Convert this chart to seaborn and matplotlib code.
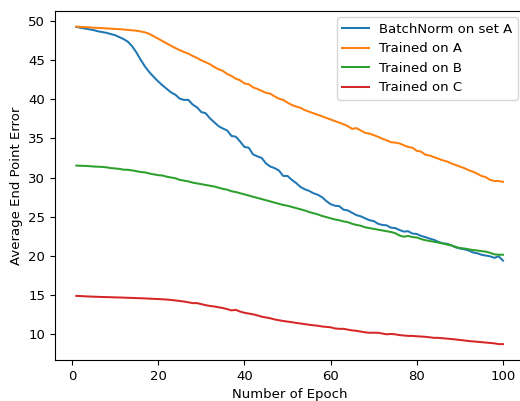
import matplotlib
matplotlib.use("Agg")
import matplotlib.pyplot as plt
import seaborn as sns
import numpy as np
import pandas as pd

epochs = list(range(1, 101))

batchnorm_a = [
    49.20, 49.10, 49.00, 48.90, 48.80, 48.65, 48.55, 48.45, 48.30, 48.15,
    47.90, 47.65, 47.30, 46.70, 45.90, 44.95, 44.10, 43.40, 42.80, 42.25,
    41.75, 41.30, 40.85, 40.55, 40.05, 39.90, 39.90, 39.30, 38.95, 38.35,
    38.20, 37.55, 37.05, 36.55, 36.25, 36.00, 35.30, 35.20, 34.60, 33.90,
    33.80, 32.95, 32.70, 32.50, 31.80, 31.40, 31.20, 30.90, 30.20, 30.20,
    29.70, 29.30, 28.80, 28.50, 28.30, 28.00, 27.80, 27.50, 27.00, 26.60,
    26.40, 26.35, 25.90, 25.80, 25.50, 25.20, 25.05, 24.80, 24.55, 24.45,
    24.10, 23.95, 23.90, 23.60, 23.55, 23.30, 23.10, 23.15, 22.85, 22.80,
    22.55, 22.40, 22.20, 22.05, 21.80, 21.60, 21.55, 21.35, 21.10, 20.95,
    20.85, 20.70, 20.45, 20.35, 20.15, 20.05, 19.95, 19.75, 19.95, 19.40,
]

trained_a = [
    49.25, 49.20, 49.18, 49.15, 49.10, 49.08, 49.05, 49.02, 48.98, 48.95,
    48.92, 48.88, 48.82, 48.77, 48.72, 48.62, 48.50, 48.30, 48.00, 47.70,
    47.40, 47.10, 46.80, 46.50, 46.25, 46.00, 45.80, 45.50, 45.25, 44.95,
    44.70, 44.45, 44.10, 43.80, 43.60, 43.20, 42.95, 42.60, 42.40, 42.00,
    41.90, 41.50, 41.30, 41.05, 40.80, 40.70, 40.35, 40.05, 39.90, 39.55,
    39.25, 39.05, 38.90, 38.60, 38.40, 38.20, 38.00, 37.80, 37.60, 37.40,
    37.20, 37.00, 36.80, 36.55, 36.20, 36.30, 36.00, 35.70, 35.60, 35.40,
    35.20, 34.95, 34.75, 34.50, 34.45, 34.35, 34.10, 33.90, 33.80, 33.40,
    33.30, 32.90, 32.80, 32.60, 32.40, 32.20, 32.05, 31.80, 31.60, 31.40,
    31.20, 30.95, 30.75, 30.50, 30.20, 30.05, 29.70, 29.55, 29.55, 29.45,
]

trained_b = [
    31.52, 31.50, 31.48, 31.45, 31.40, 31.38, 31.35, 31.30, 31.20, 31.15,
    31.10, 31.00, 30.98, 30.90, 30.80, 30.70, 30.65, 30.50, 30.40, 30.30,
    30.25, 30.10, 30.00, 29.90, 29.70, 29.60, 29.50, 29.35, 29.25, 29.15,
    29.05, 28.95, 28.85, 28.70, 28.55, 28.45, 28.25, 28.15, 28.00, 27.85,
    27.70, 27.55, 27.40, 27.25, 27.10, 26.95, 26.80, 26.65, 26.50, 26.40,
    26.25, 26.10, 25.95, 25.80, 25.60, 25.45, 25.30, 25.10, 24.95, 24.80,
    24.65, 24.55, 24.40, 24.30, 24.10, 23.95, 23.85, 23.65, 23.55, 23.45,
    23.35, 23.25, 23.15, 23.05, 22.90, 22.60, 22.45, 22.55, 22.40, 22.35,
    22.15, 22.00, 21.90, 21.80, 21.70, 21.60, 21.45, 21.35, 21.15, 21.00,
    20.95, 20.85, 20.75, 20.70, 20.60, 20.55, 20.40, 20.20, 20.15, 20.15,
]

trained_c = [
    14.90, 14.88, 14.85, 14.82, 14.80, 14.78, 14.76, 14.75, 14.73, 14.71,
    14.70, 14.68, 14.66, 14.64, 14.62, 14.60, 14.58, 14.55, 14.52, 14.50,
    14.47, 14.43, 14.38, 14.32, 14.25, 14.18, 14.08, 13.98, 13.98, 13.85,
    13.72, 13.62, 13.55, 13.45, 13.35, 13.22, 13.05, 13.12, 12.90, 12.75,
    12.65, 12.55, 12.42, 12.25, 12.15, 12.05, 11.90, 11.80, 11.70, 11.62,
    11.55, 11.45, 11.38, 11.30, 11.22, 11.15, 11.10, 11.00, 10.95, 10.90,
    10.75, 10.70, 10.70, 10.60, 10.50, 10.45, 10.35, 10.25, 10.20, 10.20,
    10.20, 10.10, 10.00, 10.05, 10.00, 9.90, 9.85, 9.80, 9.80, 9.75,
    9.72, 9.68, 9.62, 9.55, 9.55, 9.50, 9.45, 9.40, 9.35, 9.28,
    9.22, 9.15, 9.10, 9.05, 9.00, 8.95, 8.90, 8.85, 8.75, 8.75,
]

series_names = ["BatchNorm on set A", "Trained on A", "Trained on B", "Trained on C"]
series_values = [batchnorm_a, trained_a, trained_b, trained_c]
colors = ["#1f77b4", "#ff7f0e", "#2ca02c", "#d62728"]

plt.style.use("default")
plt.rcParams["font.family"] = ["DejaVu Sans"]
plt.rcParams["font.size"] = 9.5

fig = plt.figure(figsize=(5.2, 4.01), dpi=100)
ax = fig.add_axes([55 / 520, 41 / 401, 469.3 / 520, 349.3 / 401])

for name, vals, c in zip(series_names, series_values, colors):
    df = pd.DataFrame({"epoch": epochs, "err": vals})
    sns.lineplot(data=df, x="epoch", y="err", ax=ax, color=c, label=name, linewidth=1.45)

ax.set_xlabel("Number of Epoch")
ax.set_ylabel("Average End Point Error")
ax.set_xticks([0, 20, 40, 60, 80, 100])
ax.set_yticks([10, 15, 20, 25, 30, 35, 40, 45, 50])
ax.legend(loc="upper right")

fig.savefig("out.png", dpi=100)
